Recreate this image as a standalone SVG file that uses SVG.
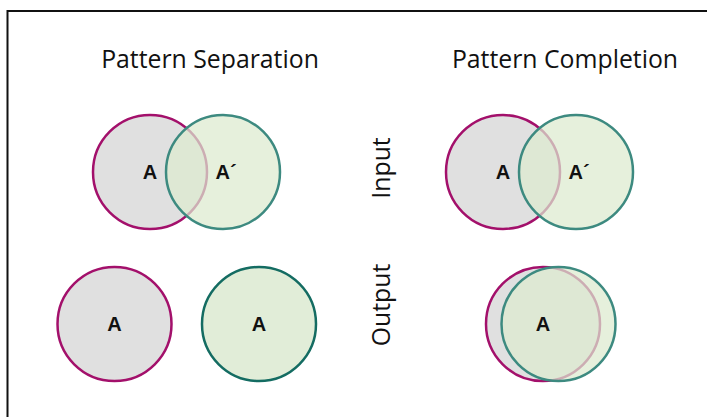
<svg xmlns="http://www.w3.org/2000/svg" width="707" height="417" viewBox="0 0 707 417">
<style>
.t{font-family:"Open Sans","Noto Sans",sans-serif;font-size:24.8px;fill:#111;text-anchor:middle}
.l{font-family:"Liberation Sans",Arial,sans-serif;font-size:20px;font-weight:bold;fill:#111;text-anchor:middle}
.a{fill:#e0e0e0;stroke:#a3106b;stroke-width:2.5}
.b{fill:rgb(220,234,206);fill-opacity:0.72;stroke:#3d8a80;stroke-width:2.5}
.c{fill:#e1edd8;stroke:#146c62;stroke-width:2.5}
</style>
<rect x="0" y="0" width="707" height="417" fill="#fff"/>
<rect x="7.5" y="11" width="710" height="420" fill="none" stroke="#111" stroke-width="2"/>
<g id="titles">
<text class="t" x="210" y="68">Pattern Separation</text>
<text class="t" x="565" y="68">Pattern Completion</text>
<text class="t" transform="translate(390,168) rotate(-90)">Input</text>
<text class="t" transform="translate(390,305) rotate(-90)">Output</text>
</g>
<g id="sep-input">
<circle class="a" cx="150" cy="172" r="57"/>
<circle class="b" cx="223" cy="172" r="57"/>
<text class="l" x="150" y="179">A</text>
<text class="l" x="226" y="179">A´</text>
</g>
<g id="comp-input">
<circle class="a" cx="503" cy="172" r="57"/>
<circle class="b" cx="576" cy="172" r="57"/>
<text class="l" x="503" y="179">A</text>
<text class="l" x="579" y="179">A´</text>
</g>
<g id="sep-output">
<circle class="a" cx="114.5" cy="324" r="57"/>
<text class="l" x="114.5" y="331">A</text>
<circle class="c" cx="259" cy="324" r="57"/>
<text class="l" x="259" y="331">A</text>
</g>
<g id="comp-output">
<circle class="a" cx="543" cy="324" r="57"/>
<circle class="b" cx="558.5" cy="324" r="57"/>
<text class="l" x="543" y="331">A</text>
</g>
</svg>
